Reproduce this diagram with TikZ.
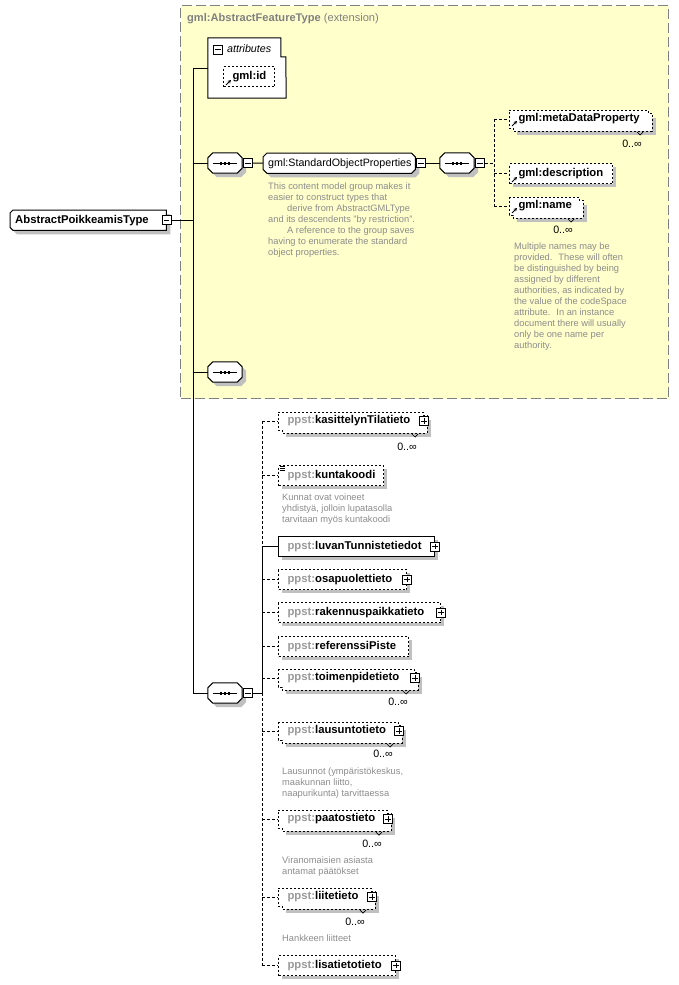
\documentclass[tikz,border=0pt]{standalone}
\usepackage{fontspec}
\setmainfont{Liberation Sans}
\usetikzlibrary{calc,arrows.meta}
\definecolor{yel}{HTML}{FFFFCC}
\definecolor{bordergray}{HTML}{808080}
\definecolor{shd}{HTML}{C0C0C0}
\definecolor{pfx}{HTML}{999999}
\definecolor{docg}{HTML}{8C8C8C}
\pgfdeclarelayer{bottom}
\pgfdeclarelayer{shadow}
\pgfdeclarelayer{back}
\pgfsetlayers{bottom,shadow,back,main}
\newcommand\fnName{\fontsize{11.3}{13}\selectfont\bfseries}
\newcommand\fnReg{\fontsize{10.7}{13}\selectfont}
\newcommand\fnTitle{\fontsize{11.1}{13}\selectfont}
\newcommand\fnDoc{\fontsize{9.3}{11}\selectfont}
\newcommand\pp{\textcolor{pfx}{ppst:}}
\tikzset{
  ln/.style={line width=1pt},
  dsh/.style={line width=1pt,dash pattern=on 3pt off 2pt},
  opt/.style={dash pattern=on 2pt off 2pt},
  ebox/.style={draw, fill=white, inner sep=0, anchor=north west, font=\fnName,
    line width=1pt, text height=8.2pt, text depth=2.3pt},
  plain/.style={inner sep=0, draw=none},
  sq/.style={draw, solid, fill=white, minimum size=9pt, inner sep=0, line width=0.8pt},
  doc/.style={inner sep=0, anchor=north west, align=left, font=\fnDoc, text=docg},
  occ/.style={inner sep=0, anchor=east, font=\fnReg},
}
% single element
\newcommand\elem[7][opt]{%
  \begin{pgfonlayer}{shadow}\fill[shd] (#3+4,#4+4) rectangle ++(#5,#6);\end{pgfonlayer}
  \node[ebox,#1,minimum width=#5,minimum height=#6] (#2) at (#3,#4) {\makebox[#5pt][l]{\hspace{9pt}#7}};
}
% multi-occurrence element (stacked outline)
\newcommand\melem[7][opt]{%
  \begin{pgfonlayer}{shadow}\fill[shd] (#3+8,#4+8) rectangle ++(#5,#6);\end{pgfonlayer}
  \begin{pgfonlayer}{back}\draw[fill=white,line width=1pt,#1]
     (#3,#4) -- ++(#5,0) -- ++(0,3) -- ++(4,0) -- ++(0,#6+1) -- ++(-#5,0) -- ++(0,-3) -- ++(-4,0) -- cycle;\end{pgfonlayer}
  \node[ebox,draw=none,fill=none,minimum width=#5,minimum height=#6] (#2) at (#3,#4) {\makebox[#5pt][l]{\hspace{9pt}#7}};
  \draw[line width=0.7pt] ($(#2.south east)+(-12,4)$) -- ++(3,3) -- ++(3,-3);
}
\newcommand\plusbox[2]{%
  \node[sq] (#1) at (#2) {};
  \draw[line width=0.8pt] ($(#1.west)+(2,0)$) -- ($(#1.east)+(-2,0)$);
  \draw[line width=0.8pt] ($(#1.north)+(0,2)$) -- ($(#1.south)+(0,-2)$);
}
\newcommand\minusbox[2]{%
  \node[sq] (#1) at (#2) {};
  \draw[line width=0.8pt] ($(#1.west)+(2,0)$) -- ($(#1.east)+(-2,0)$);
}
% octagon outline around a node: #1 node, #2 chamfer, #3 offset, #4 style
\newcommand\octdraw[4]{%
  \path[#4] ($(#1.north west)+(#3+#2,#3)$) -- ($(#1.north east)+(#3-#2,#3)$) -- ($(#1.north east)+(#3,#3+#2)$)
   -- ($(#1.south east)+(#3,#3-#2)$) -- ($(#1.south east)+(#3-#2,#3)$) -- ($(#1.south west)+(#3+#2,#3)$)
   -- ($(#1.south west)+(#3,#3-#2)$) -- ($(#1.north west)+(#3,#3+#2)$) -- cycle;}
% left-chamfered outline
\newcommand\lchdraw[4]{%
  \path[#4] ($(#1.north west)+(#3+#2,#3)$) -- ($(#1.north east)+(#3,#3)$)
   -- ($(#1.south east)+(#3,#3)$) -- ($(#1.south west)+(#3+#2,#3)$)
   -- ($(#1.south west)+(#3,#3-#2)$) -- ($(#1.north west)+(#3,#3+#2)$) -- cycle;}
\newcommand\seqnode[2]{%
  \node[plain,minimum width=34,minimum height=20] (#1) at (#2) {};
  \begin{pgfonlayer}{shadow}\octdraw{#1}{5}{4}{fill=shd}\end{pgfonlayer}
  \begin{pgfonlayer}{back}\octdraw{#1}{5}{0}{draw,fill=white,line width=1pt}\end{pgfonlayer}
  \draw[line width=1pt] ($(#1.west)+(5,0)$) -- ($(#1.east)+(-5,0)$);
  \foreach \d in {-4,0,4} \fill ($(#1.center)+(\d-1.3,-1.5)$) rectangle ++(2.6,3);
}
\newcommand\refarrow[1]{%
  \draw[solid,line width=1pt,-{Stealth[length=3.4pt,width=3.6pt]}] ($(#1.south west)+(3,-2)$) -- ++(5,-5);}

\begin{document}
\begin{tikzpicture}[x=1pt,y=-1pt]
\useasboundingbox (0,0) rectangle (679,985);

% extension region
\begin{pgfonlayer}{bottom}
\node[plain,anchor=north west,minimum width=488,minimum height=393,fill=yel,draw=bordergray,
  line width=1pt,dash pattern=on 10pt off 4pt] (ext) at (180,5) {};
\end{pgfonlayer}
\node[plain,anchor=west,text=bordergray,font=\fnTitle] (title) at (187,19)
  {\textbf{gml:AbstractFeatureType} (extension)};

% root
\node[plain,anchor=north west,minimum width=156,minimum height=20,font=\fnName,
  text height=8.2pt,text depth=2.3pt] (root) at (10,210) {\makebox[156pt][l]{\hspace{5pt}AbstractPoikkeamisType}};
\begin{pgfonlayer}{shadow}\lchdraw{root}{3}{4}{fill=shd}\end{pgfonlayer}
\begin{pgfonlayer}{back}\lchdraw{root}{3}{0}{draw,fill=white,line width=1pt}\end{pgfonlayer}
\minusbox{rootm}{166.5,220}

% attributes
\node[plain,minimum width=78,minimum height=60] (attr) at (247,68) {};
\begin{pgfonlayer}{back}
\draw[fill=white,line width=1pt] (attr.north west) -- ++(73,0) -- ++(0,19) -- ++(5,0) -- (attr.south east) -- (attr.south west) -- cycle;
\end{pgfonlayer}
\minusbox{attrm}{218,49.5}
\node[plain,anchor=west,font=\fnReg\itshape] (attrlbl) at (227,48.5) {attributes};
\elem{gmlid}{223}{66}{51}{20}{gml:id}
\refarrow{gmlid}

% compositors
\seqnode{seq1}{225,163}
\minusbox{seq1m}{248,163}
\seqnode{seq2}{225,372}
\seqnode{seq4}{225,693}
\minusbox{seq4m}{248,693}

% StandardObjectProperties group
\node[plain,anchor=north west,minimum width=152,minimum height=20,font=\fnReg,
  text height=8pt,text depth=2.3pt] (sop) at (263,153) {\makebox[152pt][l]{\hspace{5pt}gml:StandardObjectProperties}};
\begin{pgfonlayer}{shadow}\octdraw{sop}{4}{4}{fill=shd}\end{pgfonlayer}
\begin{pgfonlayer}{back}\octdraw{sop}{4}{0}{draw,fill=white,line width=1pt}\end{pgfonlayer}
\minusbox{sopm}{421,163}
\seqnode{seq3}{457,163}
\minusbox{seq3m}{480,163}

\node[doc] (sopdoc) at (268,182.5) {This content model group makes it\\easier to construct types that\\\hspace*{19pt}derive from AbstractGMLType\\and its descendents "by restriction".\\\hspace*{19pt}A reference to the group saves\\having to enumerate the standard\\object properties.};

% gml elements
\melem{mdp}{509}{110}{139}{17}{gml:metaDataProperty}
\refarrow{mdp}
\node[occ] (mdpocc) at (642,144) {0..∞};
\elem{desc}{509}{163}{103}{20}{gml:description}
\refarrow{desc}
\melem{gname}{509}{197}{70}{17}{gml:name}
\refarrow{gname}
\node[occ] (gnameocc) at (573,230) {0..∞};
\node[doc] (namedoc) at (514,242.5) {Multiple names may be\\provided.~ These will often\\be distinguished by being\\assigned by different\\authorities, as indicated by\\the value of the codeSpace\\attribute.~ In an instance\\document there will usually\\only be one name per\\authority.};

% ppst elements
\melem{kas}{278}{412}{145}{17}{\pp kasittelynTilatieto}
\plusbox{kasp}{kas.east}
\node[occ] (kasocc) at (417,447) {0..∞};

\elem{kunta}{278}{465}{105}{20}{\pp kuntakoodi}
\foreach \k in {1.5,3.5,5.5} \draw[line width=0.6pt] ($(kunta.north west)+(1.5,\k)$) -- ++(5,0);
\node[doc] (kuntadoc) at (282,494) {Kunnat ovat voineet\\yhdistyä, jolloin lupatasolla\\tarvitaan myös kuntakoodi};

\elem[solid]{luvan}{278}{536}{156}{20}{\pp luvanTunnistetiedot}
\plusbox{luvanp}{luvan.east}
\elem{osap}{278}{569}{128}{20}{\pp osapuolettieto}
\plusbox{osapp}{osap.east}
\elem{rak}{278}{602}{162}{20}{\pp rakennuspaikkatieto}
\plusbox{rakp}{rak.east}
\elem{refp}{278}{636}{130}{20}{\pp referenssiPiste}

\melem{toim}{278}{669}{136}{17}{\pp toimenpidetieto}
\plusbox{toimp}{toim.east}
\node[occ] (toimocc) at (408,702) {0..∞};

\melem{laus}{278}{722}{120}{17}{\pp lausuntotieto}
\plusbox{lausp}{laus.east}
\node[occ] (lausocc) at (393,754) {0..∞};
\node[doc] (lausdoc) at (282,767.5) {Lausunnot (ympäristökeskus,\\maakunnan liitto,\\naapurikunta) tarvittaessa};

\melem{paat}{278}{810}{109}{17}{\pp paatostieto}
\plusbox{paatp}{paat.east}
\node[occ] (paatocc) at (382,844) {0..∞};
\node[doc] (paatdoc) at (282,856.5) {Viranomaisien asiasta\\antamat päätökset};

\melem{liite}{278}{888}{93}{17}{\pp liitetieto}
\plusbox{liitep}{liite.east}
\node[occ] (liiteocc) at (365,922) {0..∞};
\node[doc] (liitedoc) at (282,934.5) {Hankkeen liitteet};

\elem{lisa}{278}{955}{117}{20}{\pp lisatietotieto}
\plusbox{lisap}{lisa.east}

% connectors
\coordinate (t1) at (193,68);
\coordinate (t2) at (193,693);
\draw[ln] (t1) -- (t2);
\draw[ln] (t1) -- (attr.west);
\draw[ln] (rootm.east) -- (rootm.east -| t1);
\draw[ln] (seq1.west -| t1) -- (seq1.west);
\draw[ln] (seq2.west -| t1) -- (seq2.west);
\draw[ln] (t2) -- (seq4.west);
\draw[ln] (seq1m.east) -- (sop.west);
\draw[ln] (sopm.east) -- (seq3.west);

\coordinate (b2) at (494,163);
\draw[dsh] (seq3m.east) -- (b2);
\draw[dsh] (mdp.west -| b2) -- (gname.west -| b2);
\foreach \n in {mdp,desc,gname} \draw[dsh] (\n.west -| b2) -- (\n.west);

\coordinate (b4) at (262,693);
\draw[ln] (seq4m.east) -- (b4);
\draw[dsh] (kas.west -| b4) -- (luvan.west -| b4);
\draw[ln] (luvan.west -| b4) -- (b4);
\draw[dsh] (b4) -- (lisa.west -| b4);
\draw[ln] (luvan.west -| b4) -- (luvan.west);
\foreach \n in {kas,kunta,osap,rak,refp,toim,laus,paat,liite,lisa} \draw[dsh] (\n.west -| b4) -- (\n.west);
\end{tikzpicture}
\end{document}
